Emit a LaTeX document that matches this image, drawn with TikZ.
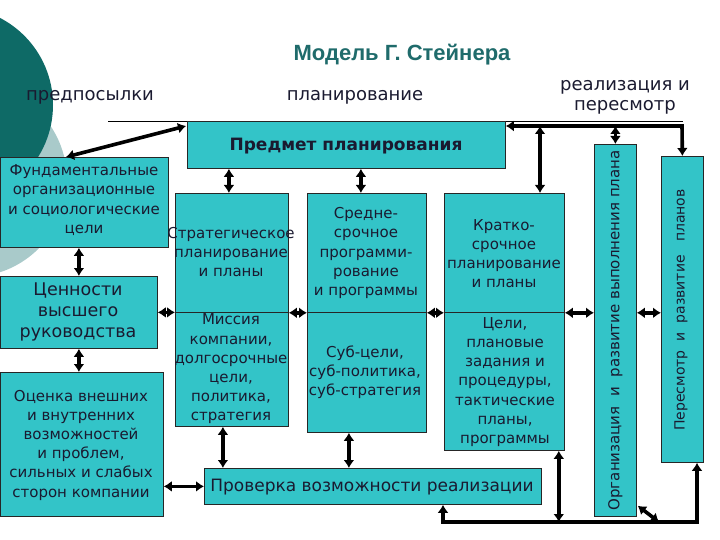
\documentclass[tikz,border=0pt]{standalone}
\usepackage{fontspec}
\setmainfont{DejaVu Sans}
\newfontfamily\titlefont{Liberation Sans}
\usetikzlibrary{arrows.meta,calc}
\definecolor{boxc}{HTML}{33C4C8}
\definecolor{titc}{HTML}{1F6B6B}
\definecolor{darkc}{HTML}{0E6A66}
\definecolor{lightc}{HTML}{A9CACA}
\definecolor{txtc}{HTML}{1A1A30}
\tikzset{
  box/.style={draw=black!85, fill=boxc, line width=0.8pt, inner sep=0pt, anchor=north west},
  txt/.style={align=center, text=txtc, inner sep=0pt, font=\fontsize{15}{19.2}\selectfont},
  arr/.style={line width=3.6pt, {Latex[length=8pt,width=11pt]}-{Latex[length=8pt,width=11pt]}},
}
\begin{document}
\begin{tikzpicture}[x=1pt,y=-1pt]
\useasboundingbox (0,0) rectangle (720,540);
\begin{scope}
\clip (0,0) rectangle (720,540);
\fill[lightc] (-30,180) circle (97);
\fill[darkc] (-45,105) circle (98);
\end{scope}
% title and headers
\node[titc, font=\titlefont\bfseries\fontsize{22}{26}\selectfont] (title) at (402,55) {Модель Г. Стейнера};
\node[txt, font=\fontsize{18}{20}\selectfont] (h1) at (90,97) {предпосылки};
\node[txt, font=\fontsize{18}{20}\selectfont] (h2) at (355,97) {планирование};
\node[txt, font=\fontsize{18}{20}\selectfont] (h3) at (625,97) {реализация и\\пересмотр};
\coordinate (rl) at (108,121);
\coordinate (rr) at (683,121);
\draw[line width=0.8pt] (rl) -- (rr);
% boxes
\node[box, minimum width=318, minimum height=47] (pm) at (187,121) {};
\node[box, minimum width=168, minimum height=90] (fund) at (0,157) {};
\node[box, minimum width=157, minimum height=72] (cen) at (0,276) {};
\node[box, minimum width=163, minimum height=144] (oc) at (0,372) {};
\node[box, minimum width=113, minimum height=119] (s1) at (175,193) {};
\node[box, minimum width=113, minimum height=114] (m1) at (175,312) {};
\node[box, minimum width=119, minimum height=119] (s2) at (307,193) {};
\node[box, minimum width=119, minimum height=120] (m2) at (307,312) {};
\node[box, minimum width=120, minimum height=119] (s3) at (444,193) {};
\node[box, minimum width=120, minimum height=138] (m3) at (444,312) {};
\node[box, minimum width=42, minimum height=372] (org) at (594,144) {};
\node[box, minimum width=42, minimum height=306] (per) at (661,156) {};
\node[box, minimum width=337, minimum height=36] (prov) at (204,468) {};
% texts
\node[txt, font=\bfseries\fontsize{17}{19}\selectfont] (tpm) at (346,146) {Предмет планирования};
\node[txt] (tfund) at (84,200) {Фундаментальные\\организационные\\и социологические\\цели};
\node[txt, font=\fontsize{17.5}{21}\selectfont] (tcen) at (78,312) {Ценности\\высшего\\руководства};
\node[txt] (toc) at (81,445) {Оценка внешних\\и внутренних\\возможностей\\и проблем,\\сильных и слабых\\сторон компании};
\node[txt] (ts1) at (231,252) {Стратегическое\\планирование\\и планы};
\node[txt] (tm1) at (231,369) {Миссия\\компании,\\долгосрочные\\цели,\\политика,\\стратегия};
\node[txt] (ts2) at (366,253) {Средне-\\срочное\\программи-\\рование\\и программы};
\node[txt] (tm2) at (365,372) {Суб-цели,\\суб-политика,\\суб-стратегия};
\node[txt] (ts3) at (504,253.5) {Кратко-\\срочное\\планирование\\и планы};
\node[txt] (tm3) at (505,382) {Цели,\\плановые\\задания и\\процедуры,\\тактические\\планы,\\программы};
\node[txt, font=\fontsize{17}{20}\selectfont] (tprov) at (372,487) {Проверка возможности реализации};
\node[txt, rotate=90, font=\fontsize{15}{17}\selectfont] (torg) at (org.center) {Организация\ \ и\ \ развитие\ выполнения плана};
\node[txt, rotate=90, font=\fontsize{14}{16}\selectfont] (tper) at (681,310) {Пересмотр\ \ и\ \ развитие\ \ \ планов};
% connectors
\coordinate (tl) at (540,126);
\coordinate (tr) at (682,126);
\coordinate (bl) at (443,522);
\coordinate (br) at (697,522);
\coordinate (dg) at (659,522);
\draw[arr] ($(pm.north west)+(-1,5)$) -- ($(fund.north west)+(66,0)$);
\draw[arr] (fund.south -| cen.north) -- (cen.north);
\draw[arr] (cen.south) -- (cen.south |- oc.north);
\draw[arr] (cen.east) -- (cen.east -| s1.west);
\draw[arr] (s1.south east) -- (s2.south west);
\draw[arr] (s2.south east) -- (s3.south west);
\draw[arr] (s3.south east) -- (s3.south east -| org.west);
\draw[arr] (org.east |- s3.south) -- (per.west |- s3.south);
\coordinate (p1) at ($(s1.north)+(-3,0)$);
\coordinate (p2) at ($(s2.north)+(-6,0)$);
\draw[arr] (p1 |- pm.south) -- (p1);
\draw[arr] (p2 |- pm.south) -- (p2);
\draw[arr] (tl) -- (tl |- s3.north);
\draw[arr] (org.north |- tr) -- (org.north);
\draw[arr] (tr -| pm.east) -- (tr) -- (per.north);
\draw[arr] (bl |- prov.south) -- (bl) -- (br) -- (br |- per.south);
\coordinate (m3b) at ($(m3.south east)+(-6,0)$);
\draw[arr] (m3b) -- (m3b |- bl);
\draw[arr] ($(org.south east)+(1,-11)$) -- (dg);
\coordinate (a1) at ($(m1.south)+(-9,0)$);
\coordinate (a2) at ($(m2.south)+(-18,0)$);
\draw[arr] (a1) -- (a1 |- prov.north);
\draw[arr] (a2) -- (a2 |- prov.north);
\draw[arr] (prov.west -| oc.east) -- (prov.west);
\end{tikzpicture}
\end{document}
